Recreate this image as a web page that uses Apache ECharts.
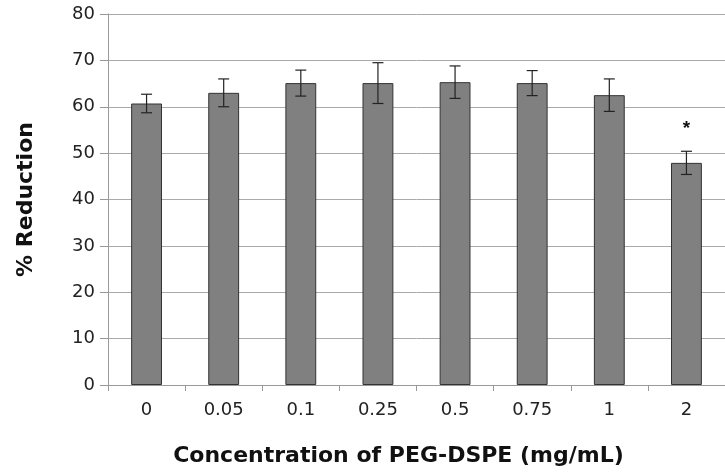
<!DOCTYPE html>
<html>
<head>
<meta charset="utf-8">
<script src="https://cdn.jsdelivr.net/npm/echarts@6/dist/echarts.min.js"></script>
<style>
  html, body { margin: 0; padding: 0; background: #fff; }
  #chart { width: 725px; height: 475px; }
</style>
</head>
<body>
<div id="chart"></div>
<script>
var categories = ["0", "0.05", "0.1", "0.25", "0.5", "0.75", "1", "2"];
var reduction = [60.7, 63.0, 65.1, 65.1, 65.3, 65.1, 62.5, 47.9];
var errors = [2.0, 3.0, 2.8, 4.4, 3.5, 2.7, 3.5, 2.5];
var marks = ["", "", "", "", "", "", "", "*"];

var myChart = echarts.init(document.getElementById("chart"));

var errData = reduction.map(function (v, i) {
  return [i, v - errors[i], v + errors[i]];
});

var font = "DejaVu Sans, Arial, sans-serif";

var option = {
  animation: false,
  textStyle: { fontFamily: font },
  grid: { left: 108, top: 14, bottom: 90, right: -9 },
  xAxis: {
    type: "category",
    data: categories,
    name: "Concentration of PEG-DSPE (mg/mL)",
    nameLocation: "middle",
    nameGap: 60,
    nameTextStyle: {
      fontSize: 22,
      fontWeight: "bold",
      color: "#111",
      fontFamily: font,
      padding: [0, 36, 0, 0]
    },
    axisLine: { lineStyle: { color: "#999", width: 1 } },
    axisTick: { show: true, length: 6, lineStyle: { color: "#999" } },
    axisLabel: { fontSize: 18, color: "#222", margin: 16, fontFamily: font },
    splitLine: { show: false }
  },
  yAxis: {
    type: "value",
    min: 0,
    max: 80,
    interval: 10,
    name: "% Reduction",
    nameLocation: "middle",
    nameGap: 71,
    nameTextStyle: { fontSize: 22, fontWeight: "bold", color: "#111", fontFamily: font },
    axisLine: { show: true, lineStyle: { color: "#999", width: 1 } },
    axisTick: { show: true, length: 8, lineStyle: { color: "#999" } },
    axisLabel: { fontSize: 18, color: "#222", margin: 13, fontFamily: font },
    splitLine: { show: true, lineStyle: { color: "#aaa", width: 1 } }
  },
  series: [
    {
      type: "bar",
      data: reduction,
      barWidth: "40%",
      itemStyle: { color: "#808080", borderColor: "#333", borderWidth: 1 },
      z: 2
    },
    {
      type: "custom",
      data: errData,
      z: 3,
      renderItem: function (params, api) {
        var i = api.value(0);
        var lo = api.coord([i, api.value(1)]);
        var hi = api.coord([i, api.value(2)]);
        var cap = 5.5;
        var style = { stroke: "#222", lineWidth: 1.2 };
        var children = [
          { type: "line", shape: { x1: hi[0], y1: hi[1], x2: lo[0], y2: lo[1] }, style: style },
          { type: "line", shape: { x1: hi[0] - cap, y1: hi[1], x2: hi[0] + cap, y2: hi[1] }, style: style },
          { type: "line", shape: { x1: lo[0] - cap, y1: lo[1], x2: lo[0] + cap, y2: lo[1] }, style: style }
        ];
        if (marks[params.dataIndex]) {
          children.push({
            type: "text",
            x: hi[0],
            y: hi[1] - 32,
            style: {
              text: marks[params.dataIndex],
              fontSize: 19,
              fontWeight: "bold",
              fontFamily: "Liberation Sans, Arial, sans-serif",
              fill: "#111",
              align: "center",
              verticalAlign: "top"
            }
          });
        }
        return { type: "group", children: children };
      }
    }
  ]
};

myChart.setOption(option);
</script>
</body>
</html>
